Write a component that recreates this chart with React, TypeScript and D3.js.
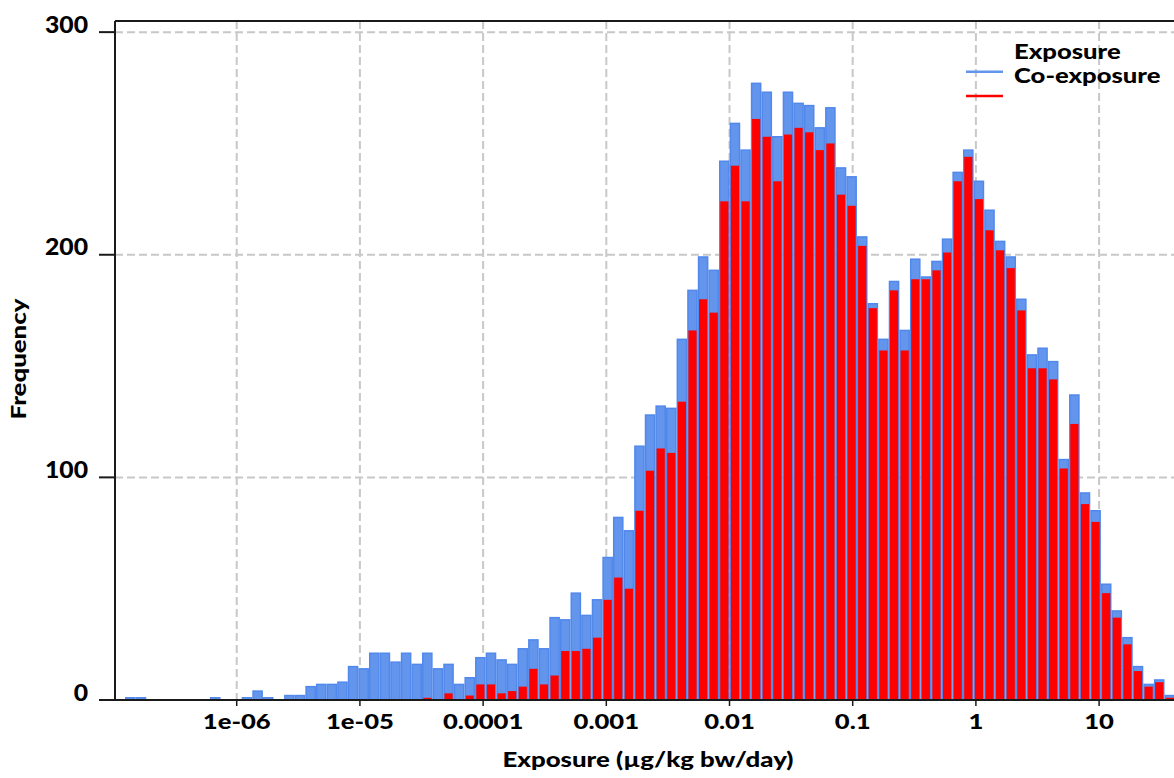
import React from "react";
import * as d3 from "d3";

// Histogram bins: log10 start of first bin and log10 bin width
const binLogStart = -6.9067;
const binLogWidth = 0.0861;

// Frequencies per bin (Exposure)
const exposureCounts = [
  1, 1, 0, 0, 0, 0, 0, 0, 1, 0,
  0, 1, 4, 1, 0, 2, 2, 6, 7, 7,
  8, 15, 14, 21, 21, 17, 21, 16, 21, 14,
  16, 7, 10, 19, 21, 18, 16, 23, 27, 23,
  37, 36, 48, 38, 45, 64, 82, 76, 114, 128,
  132, 131, 162, 184, 199, 193, 242, 259, 247, 277,
  273, 253, 273, 268, 267, 257, 266, 239, 235, 208,
  178, 162, 188, 166, 198, 190, 197, 207, 237, 247,
  233, 220, 206, 199, 180, 155, 158, 152, 108, 137,
  93, 85, 52, 40, 28, 15, 7, 9, 2,
];

// Frequencies per bin (Co-exposure)
const coExposureCounts = [
  0, 0, 0, 0, 0, 0, 0, 0, 0, 0,
  0, 0, 0, 0, 0, 0, 0, 0, 0, 0,
  0, 0, 0, 0, 0, 0, 0, 0, 1, 0,
  3, 0, 2, 7, 7, 3, 4, 6, 14, 7,
  11, 22, 22, 23, 28, 45, 55, 50, 85, 103,
  113, 111, 134, 166, 180, 174, 224, 240, 224, 261,
  253, 233, 254, 257, 255, 247, 250, 227, 222, 204,
  176, 157, 184, 157, 189, 189, 193, 201, 233, 244,
  225, 211, 202, 194, 175, 149, 149, 144, 104, 124,
  88, 80, 48, 37, 25, 13, 6, 8, 1,
];

const xTickValues = [1e-6, 1e-5, 1e-4, 1e-3, 1e-2, 1e-1, 1, 10];
const xTickLabels = ["1e-06", "1e-05", "0.0001", "0.001", "0.01", "0.1", "1", "10"];
const yTickValues = [0, 100, 200, 300];
const seriesNames = ["Exposure", "Co-exposure"];

const xDomain = [Math.pow(10, -6.988), Math.pow(10, 1.608)];
const yDomain = [0, 305];

const W = 1174;
const H = 778;
const left = 115;
const right = 1174;
const top = 21;
const bottom = 700;

const FONT = "Lato, 'Open Sans', sans-serif";
const BLUE = "#6495ED";
const BLUE_STROKE = "#5088EC";
const RED = "#FF0000";
const GRID = "#c8c8c8";
const AXIS = "#1a1a1a";

export default function App() {
  const x = d3.scaleLog().domain(xDomain).range([left, right]);
  const y = d3.scaleLinear().domain(yDomain).range([bottom, top]);

  const bins = exposureCounts.map((v, i) => {
    const x0 = Math.pow(10, binLogStart + binLogWidth * i);
    const x1 = Math.pow(10, binLogStart + binLogWidth * (i + 1));
    return { x0, x1, exp: v, co: coExposureCounts[i] };
  });

  return (
    <svg
      width={W}
      height={H}
      style={{ position: "absolute", left: 0, top: 0, background: "#fff" }}
      fontFamily={FONT}
      fontWeight={900}
    >
      <defs>
        <clipPath id="plot">
          <rect x={left} y={0} width={right - left} height={bottom + 1} />
        </clipPath>
      </defs>
      {/* grid */}
      <g stroke={GRID} strokeWidth={2} strokeDasharray="8,4">
        {yTickValues.filter((t) => t > 0).map((t) => (
          <line key={"gy" + t} x1={left} x2={right} y1={y(t)} y2={y(t)} />
        ))}
        {xTickValues.map((t) => (
          <line key={"gx" + t} x1={x(t)} x2={x(t)} y1={top} y2={bottom} />
        ))}
      </g>
      {/* bars */}
      <g clipPath="url(#plot)">
        {bins.map((b, i) =>
          b.exp > 0 ? (
            <rect
              key={"e" + i}
              x={x(b.x0) + 0.75}
              y={y(b.exp)}
              width={x(b.x1) - x(b.x0) - 1.5}
              height={y(0) - y(b.exp)}
              fill={BLUE}
              stroke={BLUE_STROKE}
              strokeWidth={1.5}
            />
          ) : null
        )}
        {bins.map((b, i) =>
          b.co > 0 ? (
            <rect
              key={"c" + i}
              x={x(b.x0) + 1.2}
              y={y(b.co)}
              width={x(b.x1) - x(b.x0) - 2.4}
              height={y(0) - y(b.co)}
              fill={RED}
            />
          ) : null
        )}
      </g>
      {/* axes frame */}
      <g stroke={AXIS} strokeWidth={2}>
        <line x1={left} x2={right} y1={top} y2={top} />
        <line x1={left} x2={left} y1={top} y2={bottom} />
        <line x1={left - 16} x2={right} y1={bottom} y2={bottom} />
        {yTickValues.map((t) => (
          <line key={"ty" + t} x1={left - 16} x2={left} y1={y(t)} y2={y(t)} />
        ))}
        {xTickValues.map((t) => (
          <line key={"tx" + t} x1={x(t)} x2={x(t)} y1={bottom} y2={bottom + 6} strokeWidth={1.5} />
        ))}
      </g>
      {/* y tick labels */}
      {yTickValues.map((t) => (
        <text
          key={"ly" + t}
          transform={`translate(88,${y(t) + 0.5}) scale(1.1,1)`}
          textAnchor="end"
          fontSize={22.5}
          fill="#000"
        >
          {t}
        </text>
      ))}
      {/* x tick labels */}
      {xTickValues.map((t, i) => (
        <text
          key={"lx" + t}
          transform={`translate(${x(t)},728.8) scale(1.22,1)`}
          textAnchor="middle"
          fontSize={21}
          fill="#000"
        >
          {xTickLabels[i]}
        </text>
      ))}
      {/* axis titles */}
      <text
        transform={`translate(648,767) scale(1.2,1)`}
        textAnchor="middle"
        fontSize={21.5}
        fill="#000"
      >
        Exposure (µg/kg bw/day)
      </text>
      <text
        transform={`translate(25.5,359) rotate(-90) scale(1.2,1)`}
        textAnchor="middle"
        fontSize={21.5}
        fill="#000"
      >
        Frequency
      </text>
      {/* legend */}
      <line x1={966} x2={1003} y1={71.7} y2={71.7} stroke={BLUE} strokeWidth={2.5} />
      <line x1={966} x2={1003} y1={96} y2={96} stroke={RED} strokeWidth={2.5} />
      <text transform="translate(1014,59.3) scale(1.25,1)" fontSize={20.5} fill="#000">
        {seriesNames[0]}
      </text>
      <text transform="translate(1014,83.3) scale(1.25,1)" fontSize={20.5} fill="#000">
        {seriesNames[1]}
      </text>
    </svg>
  );
}
